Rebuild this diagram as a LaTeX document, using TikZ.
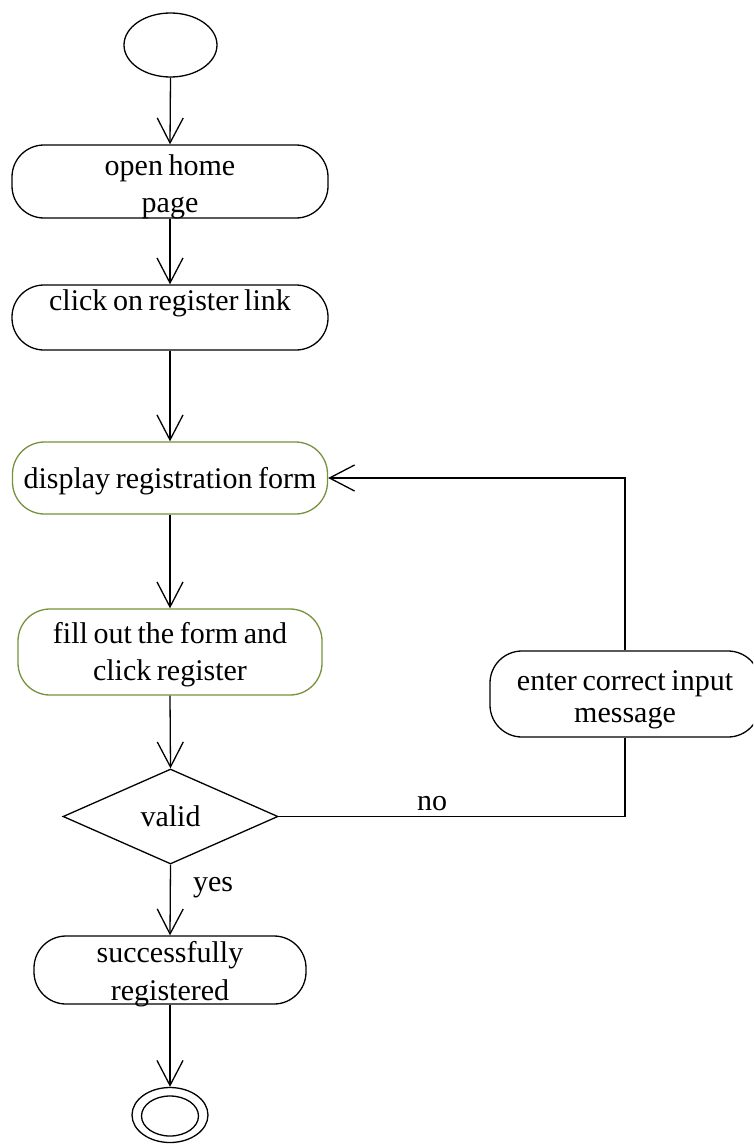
\documentclass[tikz,border=0pt]{standalone}
\usepackage{fontspec}
\setmainfont[WordSpace=0.75]{Liberation Serif}
\usetikzlibrary{shapes.geometric,arrows.meta}
\definecolor{olivegreen}{RGB}{118,146,60}
\tikzset{
  every node/.style={font=\fontsize{30}{37}\selectfont},
  activity/.style={draw, line width=1.3pt, rounded corners=32pt, inner sep=0pt},
  greenact/.style={activity, draw=olivegreen},
  caption/.style={anchor=base, inner sep=0pt},
  flow/.style={draw, line width=1.3pt, -{Straight Barb[length=25pt,width=26pt]}},
  link/.style={draw, line width=1.3pt},
}
\begin{document}
\begin{tikzpicture}[x=1pt,y=-1pt]
\clip (0,0) rectangle (753,1145);
\fill[white] (0,0) rectangle (753,1145);

% initial state
\node[draw, ellipse, line width=1.3pt, minimum width=93pt, minimum height=64pt, inner sep=0pt] (start) at (170.5,45) {};

% activities
\node[activity, minimum width=316pt, minimum height=73pt] (home) at (170,181.5) {};
\node[caption] (homeA) at (170,175) {open home};
\node[caption] (homeB) at (170,212) {page};

\node[activity, minimum width=316pt, minimum height=65pt] (reg) at (170,317.5) {};
\node[caption] (regA) at (170,310) {click on register link};

\node[greenact, minimum width=315pt, minimum height=72pt] (form) at (170,478) {};
\node[caption] (formA) at (170,488) {display registration form};

\node[greenact, minimum width=304pt, minimum height=86pt] (fill) at (170,652) {};
\node[caption] (fillA) at (170,643) {fill out the form and};
\node[caption] (fillB) at (170,680) {click register};

% decision
\node[draw, diamond, line width=1.3pt, minimum width=215pt, minimum height=95pt, inner sep=0pt] (valid) at (170.5,816.5) {valid};

\node[activity, minimum width=270pt, minimum height=86pt] (msg) at (625,694) {};
\node[caption] (msgA) at (625,690) {enter correct input};
\node[caption] (msgB) at (625,722) {message};

\node[activity, minimum width=272pt, minimum height=68pt] (done) at (170,970) {};
\node[caption] (doneA) at (170,962) {successfully};
\node[caption] (doneB) at (170,1000) {registered};

% final state
\node[draw, ellipse, line width=1.3pt, minimum width=76pt, minimum height=55pt, inner sep=0pt] (final) at (170,1115) {};
\node[draw, ellipse, line width=1.3pt, minimum width=57pt, minimum height=40pt, inner sep=0pt] (finalIn) at (170,1116) {};

% control flow
\draw[flow] (start.south) -- (home.north);
\draw[flow] (home.south) -- (reg.north);
\draw[flow] (reg.south) -- (form.north);
\draw[flow] (form.south) -- (fill.north);
\draw[flow] (fill.south) -- (valid.north);
\draw[link] (valid.east) -| (msg.south);
\draw[flow] (msg.north) |- (form.east);
\draw[flow] (valid.south) -- (done.north);
\draw[flow] (done.south) -- (final.north);

% guards
\node[caption] (no) at (432,810) {no};
\node[caption] (yes) at (213,891) {yes};
\end{tikzpicture}
\end{document}
